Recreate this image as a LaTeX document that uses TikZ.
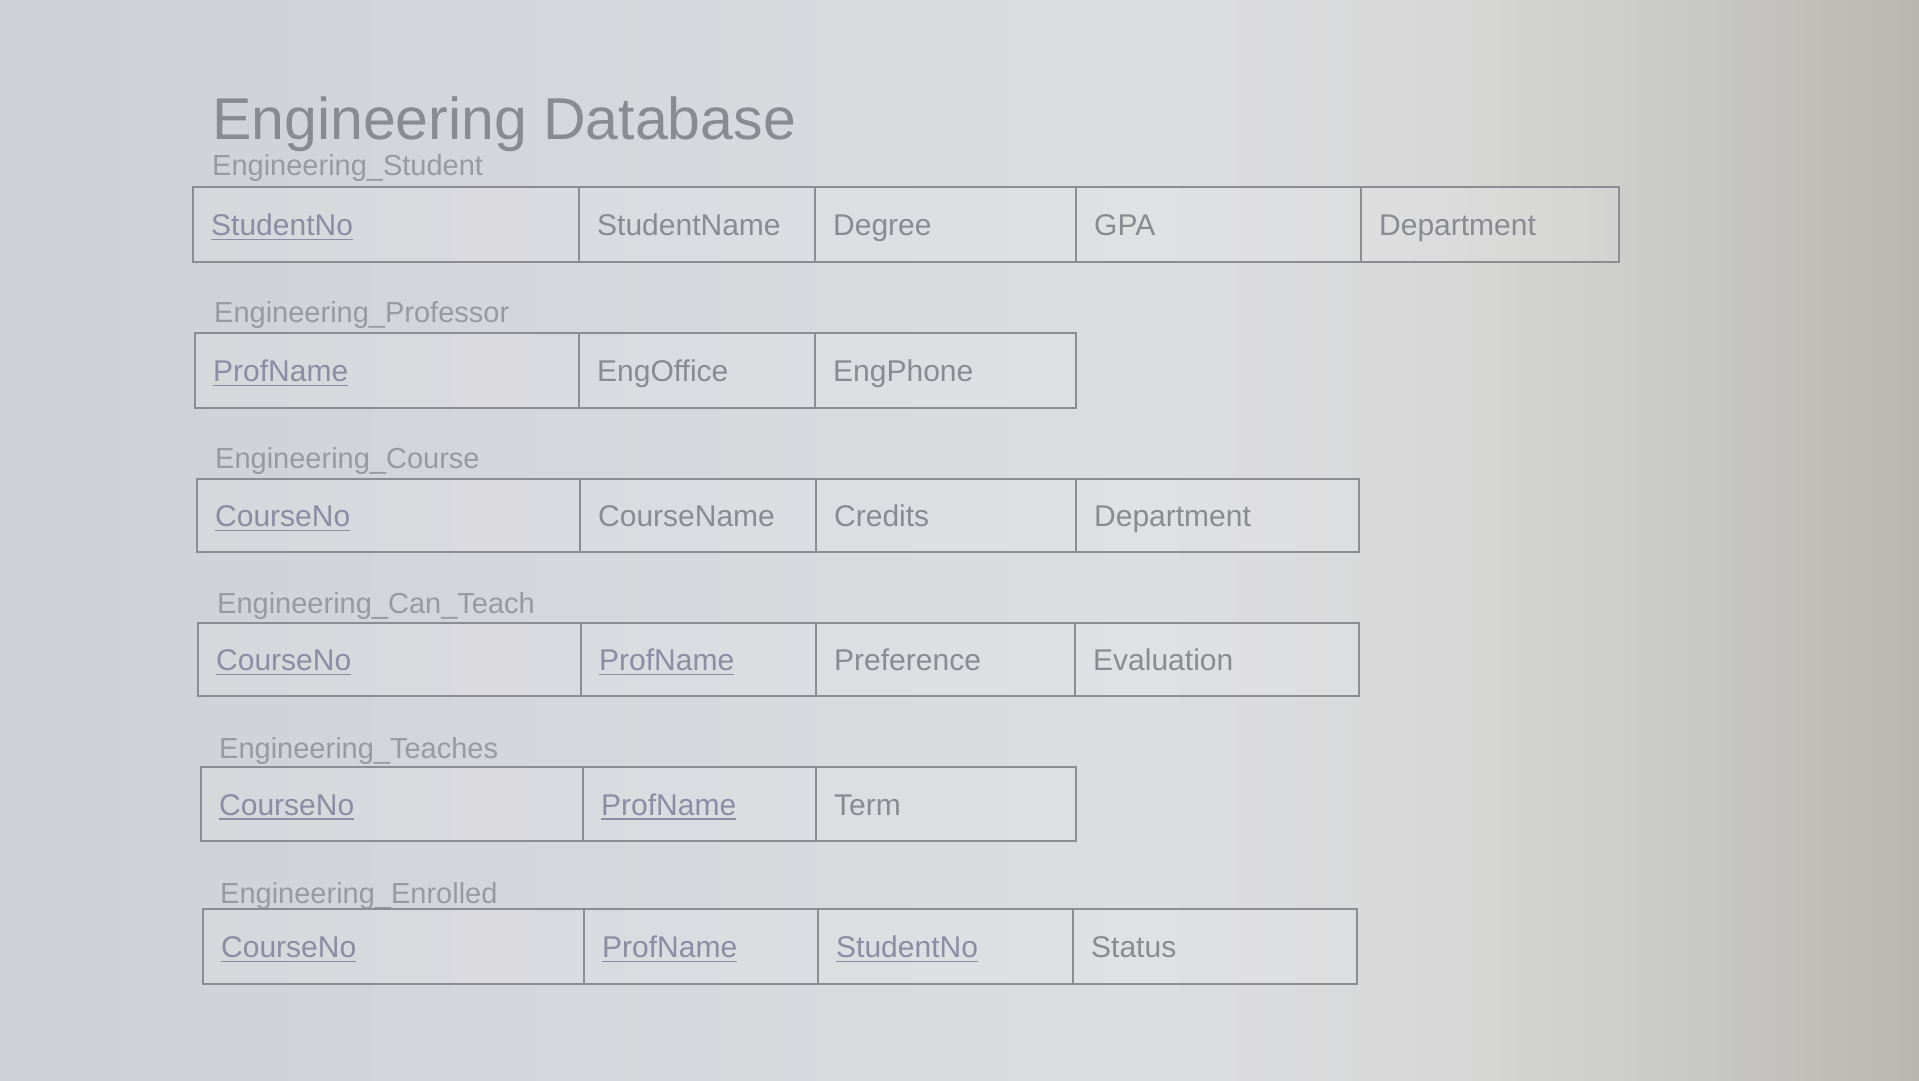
\documentclass[tikz,border=0pt]{standalone}
\usepackage{fontspec}
\setmainfont{Liberation Sans}
\definecolor{bgA}{HTML}{CFD0D6}
\definecolor{bgB}{HTML}{D6D7DC}
\definecolor{bgC}{HTML}{DCDDE0}
\definecolor{bgD}{HTML}{D8D8D8}
\definecolor{bgE}{HTML}{CDCDCA}
\definecolor{bgF}{HTML}{B8B7B2}
\definecolor{inkgray}{HTML}{8A8B90}
\definecolor{subgray}{HTML}{999A9F}
\definecolor{keyink}{HTML}{8C8CA4}
\definecolor{linegray}{HTML}{8C8C91}
\pgfdeclarehorizontalshading{bgshade}{100bp}{color(0bp)=(bgA); color(25bp)=(bgA); color(40bp)=(bgB); color(55bp)=(bgC); color(62.5bp)=(bgD); color(67.5bp)=(bgE); color(75bp)=(bgF); color(100bp)=(bgF)}
\tikzset{
  cellbox/.style={draw=linegray, line width=2.4pt, fill=white, fill opacity=0.12, draw opacity=1, inner sep=0pt, outer sep=0pt},
  celltext/.style={anchor=base west, inner sep=0pt, text=inkgray, font=\fontsize{30}{36}\selectfont},
  keytext/.style={celltext, text=keyink},
  keyline/.style={draw=keyink, line width=1.6pt},
  subtitle/.style={anchor=base west, inner sep=0pt, text=subgray, font=\fontsize{29}{34}\selectfont},
  maintitle/.style={anchor=base west, inner sep=0pt, text=inkgray, font=\fontsize{59}{68}\selectfont},
}
\newcommand\dbcell[6]{%
  \node[cellbox, minimum width={#4-#2}, minimum height={#5-#3}] (#1) at ({(#2+#4)/2},{(#3+#5)/2}) {};
  \node[celltext] (#1t) at ([xshift=18pt,yshift=-11pt]#1.west) {#6};
}
\newcommand\dbkey[6]{%
  \node[cellbox, minimum width={#4-#2}, minimum height={#5-#3}] (#1) at ({(#2+#4)/2},{(#3+#5)/2}) {};
  \node[keytext] (#1t) at ([xshift=18pt,yshift=-11pt]#1.west) {#6};
  \draw[keyline] ([yshift=-4pt]#1t.base west) -- ([yshift=-4pt]#1t.base east);
}
\begin{document}
\begin{tikzpicture}[x=1pt,y=-1pt]
\useasboundingbox (0,0) rectangle (1919,1080);
\shade[shading=bgshade] (0,0) rectangle (1919,1080);

\node[maintitle] (title) at (212,139) {Engineering Database};

% Engineering_Student
\node[subtitle] (s1) at (212,175) {Engineering\_Student};
\dbkey{a1}{193}{187}{579}{262}{StudentNo}
\dbcell{a2}{579}{187}{815}{262}{StudentName}
\dbcell{a3}{815}{187}{1076}{262}{Degree}
\dbcell{a4}{1076}{187}{1361}{262}{GPA}
\dbcell{a5}{1361}{187}{1619}{262}{Department}

% Engineering_Professor
\node[subtitle] (s2) at (214,322) {Engineering\_Professor};
\dbkey{b1}{195}{333}{579}{408}{ProfName}
\dbcell{b2}{579}{333}{815}{408}{EngOffice}
\dbcell{b3}{815}{333}{1076}{408}{EngPhone}

% Engineering_Course
\node[subtitle] (s3) at (215,468) {Engineering\_Course};
\dbkey{c1}{197}{479}{580}{552}{CourseNo}
\dbcell{c2}{580}{479}{816}{552}{CourseName}
\dbcell{c3}{816}{479}{1076}{552}{Credits}
\dbcell{c4}{1076}{479}{1359}{552}{Department}

% Engineering_Can_Teach
\node[subtitle] (s4) at (217,613) {Engineering\_Can\_Teach};
\dbkey{d1}{198}{623}{581}{696}{CourseNo}
\dbkey{d2}{581}{623}{816}{696}{ProfName}
\dbcell{d3}{816}{623}{1075}{696}{Preference}
\dbcell{d4}{1075}{623}{1359}{696}{Evaluation}

% Engineering_Teaches
\node[subtitle] (s5) at (219,758) {Engineering\_Teaches};
\dbkey{e1}{201}{767}{583}{841}{CourseNo}
\dbkey{e2}{583}{767}{816}{841}{ProfName}
\dbcell{e3}{816}{767}{1076}{841}{Term}

% Engineering_Enrolled
\node[subtitle] (s6) at (220,903) {Engineering\_Enrolled};
\dbkey{f1}{203}{909}{584}{984}{CourseNo}
\dbkey{f2}{584}{909}{818}{984}{ProfName}
\dbkey{f3}{818}{909}{1073}{984}{StudentNo}
\dbcell{f4}{1073}{909}{1357}{984}{Status}
\end{tikzpicture}
\end{document}
